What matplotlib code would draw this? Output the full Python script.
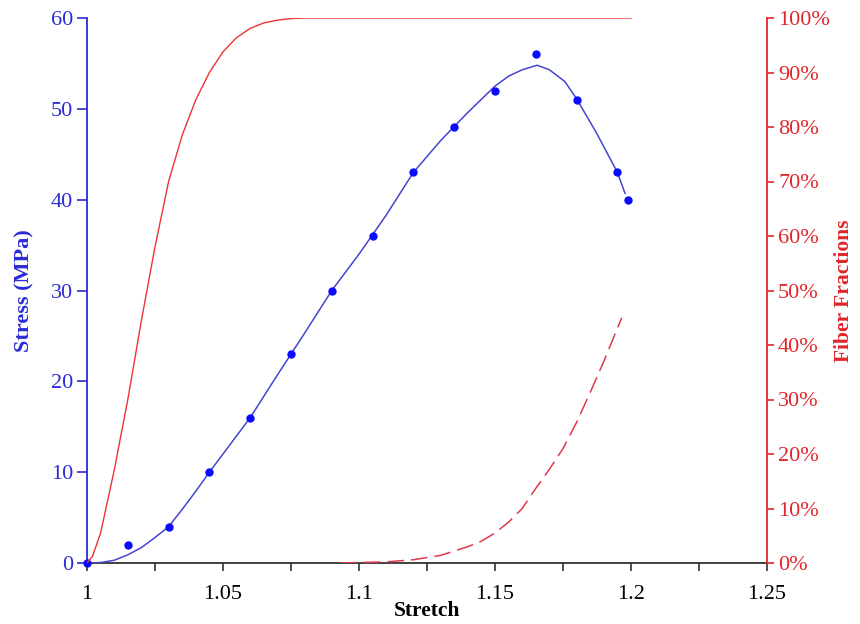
import matplotlib
matplotlib.use("Agg")
import matplotlib.pyplot as plt
from matplotlib.ticker import MultipleLocator, FuncFormatter

plt.rcParams['font.family'] = ['Liberation Serif', 'DejaVu Serif']

# measured stress points
stretch_pts = [1.0, 1.015, 1.03, 1.045, 1.06, 1.075, 1.09, 1.105, 1.12, 1.135,
               1.15, 1.165, 1.18, 1.195, 1.199]
stress_pts = [0, 2, 4, 10, 16, 23, 30, 36, 43, 48, 52, 56, 51, 43, 40]

# model stress curve
stretch_fit = [1.0, 1.005, 1.01, 1.015, 1.02, 1.025, 1.03, 1.035, 1.04, 1.045,
               1.05, 1.06, 1.07, 1.08, 1.09, 1.10, 1.11, 1.12, 1.13, 1.14,
               1.15, 1.155, 1.16, 1.1655, 1.17, 1.1757, 1.18, 1.1874, 1.195, 1.1978]
stress_fit = [0, 0.05, 0.3, 0.9, 1.7, 2.8, 4.0, 5.9, 7.9, 10.0,
              12.0, 16.0, 20.7, 25.3, 30.0, 34.0, 38.3, 43.0, 46.5, 49.6,
              52.5, 53.6, 54.3, 54.8, 54.3, 53.0, 51.1, 47.3, 43.0, 40.7]

# fraction of recruited fibers (%)
stretch_rec = [1.0, 1.002, 1.005, 1.01, 1.015, 1.02, 1.025, 1.03, 1.035, 1.04,
               1.045, 1.05, 1.055, 1.06, 1.065, 1.07, 1.075, 1.08, 1.2]
recruited = [0, 1.2, 5.5, 17, 30, 44.5, 58, 70, 78.5, 85,
             90, 93.8, 96.4, 98.1, 99.1, 99.6, 99.9, 100, 100]

# fraction of failed fibers (%)
stretch_fail = [1.093, 1.10, 1.11, 1.12, 1.13, 1.14, 1.145, 1.15, 1.155, 1.16,
                1.165, 1.17, 1.175, 1.18, 1.185, 1.19, 1.1966]
failed = [0, 0.1, 0.2, 0.6, 1.4, 3.0, 4.0, 5.5, 7.5, 10.0,
          13.7, 17.2, 21.0, 25.8, 31.3, 37.0, 45]

blue = '#2b2bd6'
red = '#e0262b'

fig = plt.figure(figsize=(8.6, 6.24), dpi=100)
ax = fig.add_axes([87/860, 1-563/624, 680/860, 545/624])
ax2 = ax.twinx()

ax.plot(stretch_fit, stress_fit, color='#4545d0', lw=1.1, zorder=3)
ax.plot(stretch_pts, stress_pts, 'o', color='#0a0aff', ms=5, zorder=4, clip_on=False)

ax2.plot(stretch_rec, recruited, color='#ee3333', lw=1.0)
ax2.plot(stretch_fail, failed, color='#e03a4a', lw=1.1, dashes=(11, 4.5))

ax.set_xlim(1, 1.25)
ax.set_ylim(0, 60)
ax2.set_ylim(0, 100)

ax.xaxis.set_major_locator(MultipleLocator(0.05))
ax.xaxis.set_minor_locator(MultipleLocator(0.025))
ax.xaxis.set_major_formatter(FuncFormatter(lambda v, p: ('%.3f' % v).rstrip('0').rstrip('.')))
ax.yaxis.set_major_locator(MultipleLocator(10))
ax2.yaxis.set_major_locator(MultipleLocator(10))
ax2.yaxis.set_major_formatter(FuncFormatter(lambda v, p: '%d%%' % v))

for a in (ax, ax2):
    a.spines['top'].set_visible(False)
ax.spines['right'].set_visible(False)
ax2.spines['left'].set_visible(False)
ax2.spines['bottom'].set_visible(False)
ax.spines['left'].set_color(blue)
ax.spines['bottom'].set_color('#333333')
ax2.spines['right'].set_color(red)
for s in ('left', 'bottom'):
    ax.spines[s].set_linewidth(1.3)
ax2.spines['right'].set_linewidth(1.3)

ax.tick_params(axis='x', which='both', length=6, width=1.2, color='#333333',
               labelsize=16, labelcolor='black', pad=10)
ax.tick_params(axis='y', length=7, width=1.2, color=blue, labelcolor=blue,
               labelsize=16, pad=3)
ax2.tick_params(axis='y', length=5, width=1.2, color=red, labelcolor=red,
                labelsize=16, pad=3)

ax.set_xlabel('Stretch', fontsize=15.5, fontweight='bold', labelpad=-2)
ax.set_ylabel('Stress (MPa)', fontsize=16, fontweight='bold', color=blue, labelpad=12)
ax2.set_ylabel('Fiber Fractions', fontsize=15.5, fontweight='bold', color=red, labelpad=3)

fig.savefig('out.png', dpi=100)
